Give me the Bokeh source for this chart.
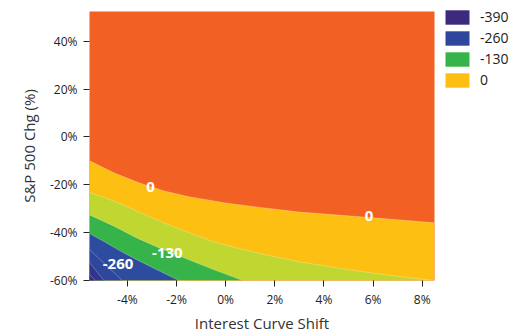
from bokeh.plotting import figure
from bokeh.models import Legend, LegendItem, FixedTicker, PrintfTickFormatter, Range1d
from bokeh.core.properties import value
from bokeh.embed import file_html
from bokeh.resources import INLINE

# contour boundaries (x: curve shift %, y: S&P change %)
levels = [0, -65, -130, -195, -260, -325, -390]
b0_x = [-5.54, -4.5, -3.5, -2.5, -1.5, 0.0, 1.5, 3.0, 5.75, 8.5]
b0_y = [-10.0, -15.2, -19.3, -22.6, -25.0, -27.6, -29.6, -31.4, -33.6, -35.9]
b65_x = [-5.54, -4.5, -3.5, -2.5, -1.5, -0.5, 0.5, 1.5, 3.0, 5.0, 7.0, 8.5]
b65_y = [-23.2, -27.0, -31.5, -36.0, -40.0, -43.8, -46.6, -49.0, -52.2, -55.5, -58.3, -60.0]
b130_x = [-5.54, -4.5, -3.6, -2.6, -1.6, -0.6, 0.7]
b130_y = [-32.6, -37.5, -42.3, -46.8, -50.9, -55.0, -60.0]
b195_x = [-5.54, -4.9, -4.3, -3.6, -2.9, -1.9]
b195_y = [-40.4, -44.0, -47.6, -51.4, -55.0, -60.0]
b260_x = [-5.54, -4.9, -4.2]
b260_y = [-47.0, -53.3, -60.0]
b325_x = [-5.54, -4.95]
b325_y = [-52.5, -60.0]
b390_x = [-5.54, -5.3]
b390_y = [-57.5, -60.0]

bounds = [(b0_x, b0_y), (b65_x, b65_y), (b130_x, b130_y), (b195_x, b195_y),
          (b260_x, b260_y), (b325_x, b325_y), (b390_x, b390_y)]
above_color = "#F26123"
band_colors = ["#FCBF12", "#BFD730", "#36B44A", "#2D4C9F", "#2E479C", "#33358A", "#3C2A7E"]

legend_levels = ["-390", "-260", "-130", "0"]
legend_band_index = [6, 4, 2, 0]

label_text = ["0", "0", "-130", "-260"]
label_x = [-3.06, 5.84, -2.37, -4.38]
label_y = [-21.1, -33.1, -48.6, -53.0]

x_ticks = [-4, -2, 0, 2, 4, 6, 8]
y_ticks = [-60, -40, -20, 0, 20, 40]
x_min, x_max = -5.54, 8.5
y_min, y_max = -60, 52.4

FONT = "Open Sans"

p = figure(output_backend="svg", toolbar_location=None,
           x_range=Range1d(x_min, x_max), y_range=Range1d(y_min, y_max),
           min_border_left=89, min_border_top=11, min_border_bottom=48, min_border_right=0)
p.frame_width = 345
p.frame_height = 269
p.background_fill_color = above_color
p.outline_line_color = None
p.grid.visible = False

renderers = []
for (bx, by), col in zip(bounds, band_colors):
    r = p.varea(x=bx, y1=by, y2=[y_min] * len(bx), fill_color=col)
    renderers.append(r)
for bx, by in bounds:
    p.line(bx, by, line_color="white", line_alpha=0.45, line_width=0.6)

p.text(x=label_x, y=label_y, text=label_text, text_color="white",
       text_font=value(FONT), text_font_style="bold", text_font_size="15px",
       text_align="center", text_baseline="middle")

items = [LegendItem(label=lab, renderers=[renderers[i]]) for lab, i in zip(legend_levels, legend_band_index)]
legend = Legend(items=items, location=(8, 191), margin=0, padding=0, spacing=2,
                glyph_width=30, glyph_height=18, label_height=18, label_standoff=8,
                label_text_font=FONT, label_text_font_size="14px", label_text_color="#222222",
                border_line_color=None, background_fill_alpha=0)
p.add_layout(legend, "right")

p.xaxis.ticker = FixedTicker(ticks=x_ticks)
p.yaxis.ticker = FixedTicker(ticks=y_ticks)
p.xaxis.formatter = PrintfTickFormatter(format="%d%%")
p.yaxis.formatter = PrintfTickFormatter(format="%d%%")
p.xaxis.axis_label = "Interest Curve Shift"
p.yaxis.axis_label = "S&P 500 Chg (%)"
for ax in (p.xaxis, p.yaxis):
    ax.axis_line_color = None
    ax.major_tick_in = 0
    ax.major_tick_out = 6
    ax.major_tick_line_color = "#222222"
    ax.minor_tick_line_color = None
    ax.major_label_text_font = FONT
    ax.major_label_text_font_size = "12px"
    ax.major_label_text_color = "#222222"
    ax.axis_label_text_font = FONT
    ax.axis_label_text_font_size = "15px"
    ax.axis_label_text_font_style = "normal"
    ax.axis_label_text_color = "#333333"
p.xaxis.major_label_standoff = 4
p.xaxis.axis_label_standoff = 2
p.yaxis.major_label_standoff = 6
p.yaxis.axis_label_standoff = 8

open("out.html", "w").write(file_html(p, INLINE))
